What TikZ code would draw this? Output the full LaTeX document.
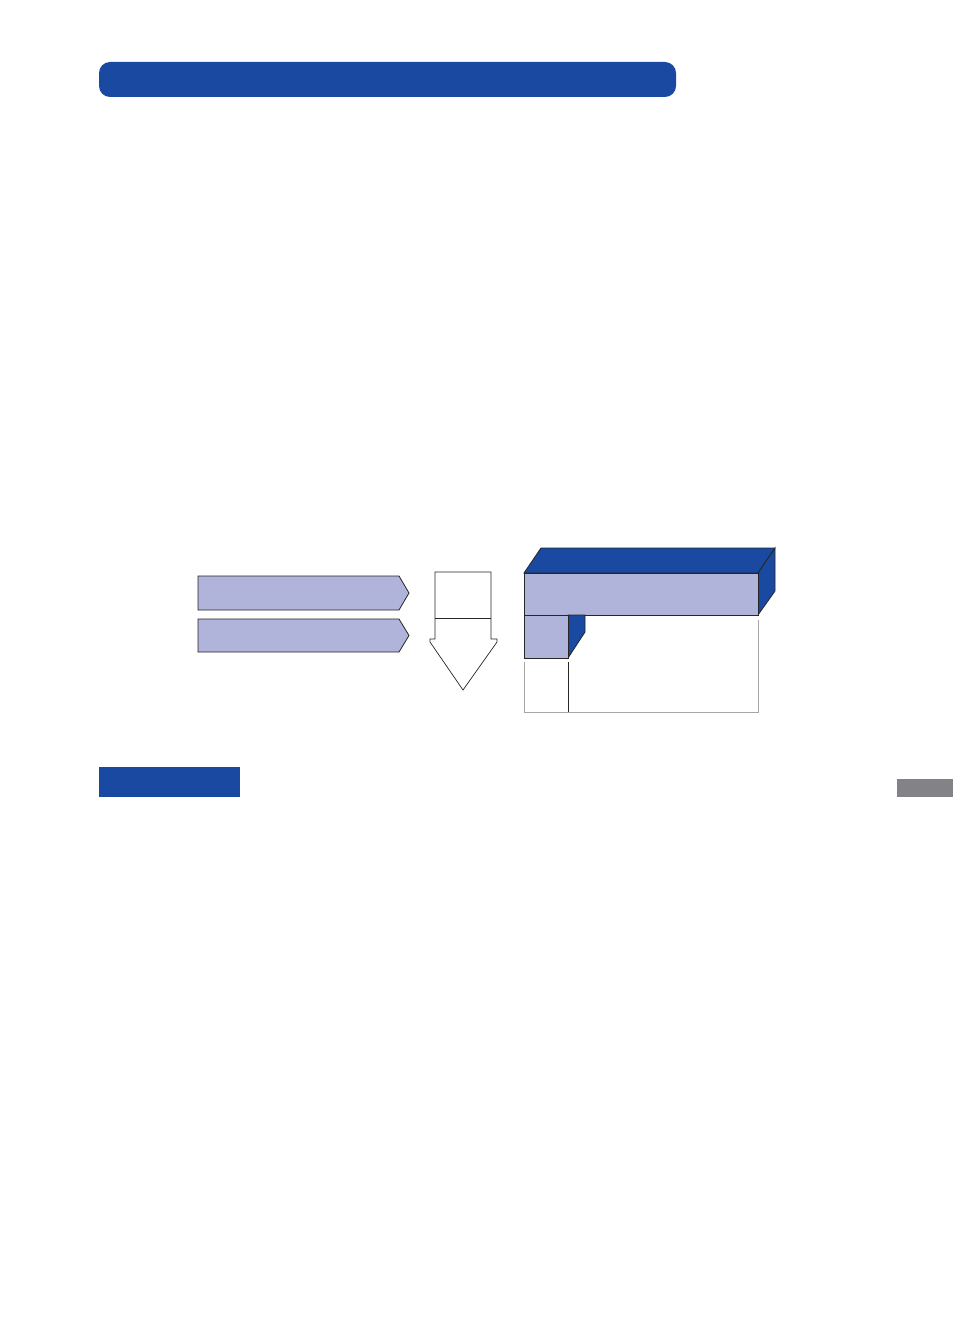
\documentclass[tikz,border=0pt]{standalone}
\begin{document}
\begin{tikzpicture}[x=1pt,y=-1pt,
  line join=miter,
  outl/.style={draw=black!85,line width=0.8pt},
  lite/.style={draw=black!35,line width=0.7pt},
  blk/.style={fill=bandblue},
  lav/.style={fill=lavender}]
\definecolor{bandblue}{RGB}{25,73,160}
\definecolor{lavender}{RGB}{177,180,218}
\definecolor{tabgray}{RGB}{131,131,135}
\useasboundingbox (0,0) rectangle (953,1337);
\fill[white] (0,0) rectangle (953,1337);
% title band
\fill[bandblue,rounded corners=11pt] (99,62) rectangle (676,97);
% section tab and side tab
\fill[bandblue] (99,767) rectangle (240,797);
\fill[tabgray] (897,779) rectangle (953,797);
% chevrons
\draw[outl,lav] (198,576) -- (399,576) -- (409,593) -- (399,610) -- (198,610) -- cycle;
\draw[outl,lav] (198,619) -- (399,619) -- (409,635.5) -- (399,652) -- (198,652) -- cycle;
% down arrow
\draw[outl,line width=0.7pt,fill=white] (435,572) -- (491,572) -- (491,639) -- (497,639) -- (497,642)
  -- (463,690) -- (430,642) -- (430,639) -- (435,639) -- cycle;
\draw[outl,line width=0.7pt] (435,618) -- (491,618);
% open box outline below
\draw[lite] (524,662) -- (524,712) -- (758,712) -- (758,620);
\draw[outl,line width=0.7pt] (568,662) -- (568,712);
% 3D bar: top face
\draw[outl,blk] (524,573) -- (541,548) -- (775,548) -- (758,573) -- cycle;
% right side face
\draw[outl,blk] (758,573) -- (775,548) -- (775,591) -- (758,615) -- cycle;
% front face
\draw[outl,lav] (524,573) rectangle (758,615);
% small box side
\draw[outl,blk] (568,615) -- (585,615) -- (585,632) -- (568,658) -- cycle;
% small box front
\draw[outl,lav] (524,615) rectangle (568,658);
\end{tikzpicture}
\end{document}
